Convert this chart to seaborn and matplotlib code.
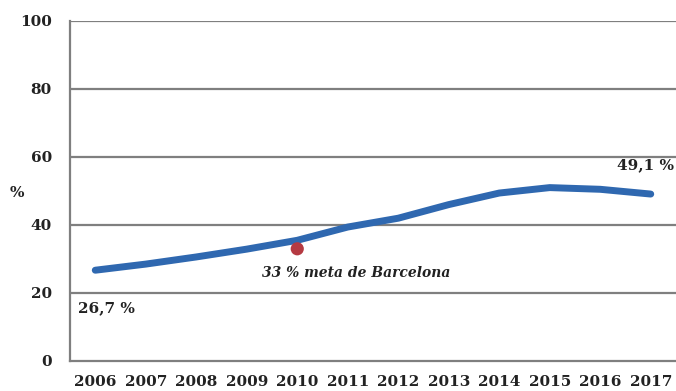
import matplotlib
matplotlib.use("Agg")
import matplotlib.pyplot as plt
import seaborn as sns
import pandas as pd

years = [2006, 2007, 2008, 2009, 2010, 2011, 2012, 2013, 2014, 2015, 2016, 2017]
values = [26.7, 28.5, 30.6, 32.9, 35.5, 39.4, 42.0, 46.0, 49.4, 51.0, 50.5, 49.1]
target_year = [2010]
target_value = [33]
yticks = [0, 20, 40, 60, 80, 100]

sns.set_theme(style="white")
plt.rcParams['font.family'] = ['DejaVu Serif']

df = pd.DataFrame({"year": years, "value": values})
tdf = pd.DataFrame({"year": target_year, "value": target_value})

fig = plt.figure(figsize=(6.76, 3.91), dpi=100)
ax = fig.add_axes([70/676, 1-361/391, 1-70/676, 340/391])

grid_c = "#7f7f7f"
txt_c = "#222222"
for v in yticks[1:]:
    ax.axhline(v, color=grid_c, lw=1.6, zorder=1)

sns.lineplot(data=df, x="year", y="value", ax=ax, color="#2F68B0", lw=5.0,
             solid_capstyle="round", solid_joinstyle="round", zorder=3)
sns.scatterplot(data=tdf, x="year", y="value", ax=ax, color="#B53A42", s=90,
                edgecolor="none", zorder=4)

ax.set_xlim(years[0]-0.5, years[-1]+0.5)
ax.set_ylim(0, 100)
ax.set_yticks(yticks)
ax.set_yticklabels([str(v) for v in yticks], fontsize=11, fontweight="bold", color=txt_c)
ax.set_xticks([y - 0.5 for y in years], minor=False)
ax.set_xticklabels([])
ax.set_xticks(years, minor=True)
ax.set_xticklabels([str(y) for y in years], minor=True, fontsize=11, fontweight="bold", color=txt_c)
ax.tick_params(axis="x", which="major", direction="out", length=4, width=1.5, color=grid_c)
ax.tick_params(axis="x", which="minor", length=0, pad=10)
ax.tick_params(axis="y", direction="out", length=4, width=1.5, color=grid_c, pad=9)

for s in ["top", "right"]:
    ax.spines[s].set_visible(False)
for s in ["left", "bottom"]:
    ax.spines[s].set_color(grid_c)
    ax.spines[s].set_linewidth(1.6)

ax.set_xlabel("")
ax.set_ylabel("")
fig.text(10/676, 1-193/391, "%", fontsize=11, fontweight="bold", color=txt_c, va="center", ha="left")

ax.text(2005.65, 15.5, "26,7 %", fontsize=11, fontweight="bold", color=txt_c, va="center", ha="left")
ax.text(2017.47, 57.5, "49,1 %", fontsize=11, fontweight="bold", color=txt_c, va="center", ha="right")
ax.text(2009.3, 26.0, "33 % meta de Barcelona", fontsize=10, fontweight="bold", fontstyle="italic",
        color=txt_c, va="center", ha="left")

fig.savefig("out.png", dpi=100)
